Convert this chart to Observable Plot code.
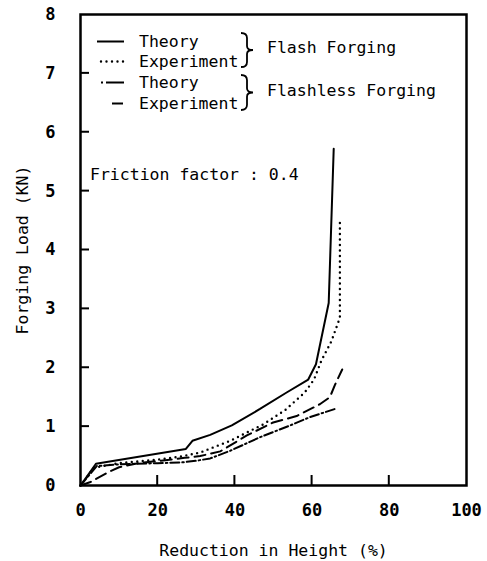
<!DOCTYPE html>
<html><head><meta charset="utf-8">
<script src="https://cdn.jsdelivr.net/npm/d3@7"></script>
<script src="https://cdn.jsdelivr.net/npm/@observablehq/plot@0.6"></script>
<style>
body{margin:0;background:#fff}
#chart svg{display:block;font-family:"DejaVu Sans Mono",monospace;}
g[aria-label="x-axis tick label"], g[aria-label="y-axis tick label"]{font-weight:bold;font-size:17px}
g[aria-label="x-axis label"], g[aria-label="y-axis label"]{font-weight:normal;font-size:16.5px}
</style></head><body><div id="chart"></div>
<script>
// ---- data ----
const xTicks = [0, 20, 40, 60, 80, 100];
const yTicks = [0, 1, 2, 3, 4, 5, 6, 7, 8];

const flashTheoryX = [0, 4.0, 27.3, 29.0, 33.6, 39.2, 46.5, 53.4, 59.0, 61.0, 64.3, 65.6];
const flashTheoryY = [0, 0.37, 0.62, 0.76, 0.86, 1.02, 1.30, 1.58, 1.80, 2.06, 3.10, 5.72];

const flashExpX = [0, 3.5, 10, 20, 25.8, 31.0, 38.8, 47.4, 53.0, 58.1, 60.5, 62.4, 65.0, 67.2, 67.2];
const flashExpY = [0, 0.30, 0.38, 0.44, 0.49, 0.56, 0.76, 1.04, 1.28, 1.58, 1.80, 2.12, 2.45, 2.85, 4.52];

const flashlessTheoryX = [0, 4.2, 10, 20, 25.8, 30.0, 33.6, 38.8, 46.5, 54.3, 59.4, 65.9];
const flashlessTheoryY = [0, 0.33, 0.36, 0.38, 0.39, 0.42, 0.46, 0.59, 0.82, 1.02, 1.16, 1.30];

const flashlessExpX = [0, 2.6, 7.3, 10, 15, 22, 27, 31, 36.2, 43.1, 49.9, 56.0, 62.0, 64.6, 66.0, 67.8];
const flashlessExpY = [0, 0.06, 0.23, 0.31, 0.38, 0.43, 0.47, 0.50, 0.58, 0.85, 1.07, 1.18, 1.38, 1.50, 1.72, 1.97];

const seriesNames = ["Theory", "Experiment", "Theory", "Experiment"];
const groupNames = ["Flash Forging", "Flashless Forging"];
const annotation = "Friction factor : 0.4";
const xLabel = "Reduction in Height (%)";
const yLabel = "Forging Load (KN)";

// ---- styles ----
const styles = [
  {strokeDasharray: null, strokeWidth: 2},
  {strokeDasharray: "0 5.5", strokeWidth: 2.4, strokeLinecap: "round"},
  {strokeDasharray: "9 3 1.5 3", strokeWidth: 2},
  {strokeDasharray: "11 6", strokeWidth: 2}
];

// inward ticks drawn through the plot's scales
function innerTicks(index, scales, values, dims) {
  const g = d3.create("svg:g").attr("stroke", "#000").attr("stroke-width", 2);
  const bottom = dims.height - dims.marginBottom, left = dims.marginLeft;
  xTicks.filter(d => d > 0 && d < 100).forEach(v => {
    const px = scales.x(v);
    g.append("line").attr("x1", px).attr("x2", px).attr("y1", bottom).attr("y2", bottom - 10);
  });
  yTicks.filter(d => d > 0 && d < 8).forEach(v => {
    const py = scales.y(v);
    g.append("line").attr("x1", left).attr("x2", left + 9).attr("y1", py).attr("y2", py);
  });
  return g.node();
}

function legendMark(index, scales, values, dims) {
  const ox = dims.marginLeft, oy = dims.marginTop;
  const g = d3.create("svg:g")
    .attr("font-family", "DejaVu Sans Mono, monospace")
    .attr("font-size", 16.5)
    .attr("text-anchor", "start")
    .attr("fill", "#000");
  const rows = [
    {x1: 17, x2: 44, base: 33},
    {x1: 21, x2: 44, base: 53},
    {x1: 21, x2: 44, base: 74},
    {x1: 32, x2: 44, base: 95}
  ];
  rows.forEach((r, i) => {
    const st = styles[i];
    const dash = i === 2 ? "2 3 25" : st.strokeDasharray;
    g.append("line")
      .attr("x1", ox + r.x1).attr("x2", ox + r.x2)
      .attr("y1", oy + r.base - 5.5).attr("y2", oy + r.base - 5.5)
      .attr("stroke", "#000").attr("stroke-width", st.strokeWidth)
      .attr("stroke-dasharray", dash)
      .attr("stroke-linecap", st.strokeLinecap || "butt");
    g.append("text").attr("x", ox + 59).attr("y", oy + r.base).text(seriesNames[i]);
  });
  const brace = (x, y1, y2, w) => {
    const h = y2 - y1, ym = (y1 + y2) / 2, xm = x + w / 2;
    return `M${x},${y1} Q${xm},${y1} ${xm},${y1 + h * 0.15} L${xm},${ym - h * 0.12} Q${xm},${ym} ${x + w},${ym} Q${xm},${ym} ${xm},${ym + h * 0.12} L${xm},${y2 - h * 0.15} Q${xm},${y2} ${x},${y2}`;
  };
  [[19, 53, 39], [61, 96, 82]].forEach(([a, b, base], i) => {
    g.append("path").attr("d", brace(ox + 161, oy + a, oy + b, 12))
      .attr("fill", "none").attr("stroke", "#000").attr("stroke-width", 1.8);
    g.append("text").attr("x", ox + 187).attr("y", oy + base).text(groupNames[i]);
  });
  g.append("text").attr("x", ox + 10).attr("y", oy + 166).text(annotation);
  return g.node();
}

const plot = Plot.plot({
  width: 487, height: 561,
  marginLeft: 80, marginRight: 21, marginTop: 14, marginBottom: 76,
  x: {domain: [0, 100]},
  y: {domain: [0, 8]},
  style: {fontFamily: "DejaVu Sans Mono, monospace", fontSize: "16.5px", color: "#000", background: "#fff"},
  marks: [
    Plot.axisX(xTicks, {tickSize: 0, tickPadding: 18, tickFormat: d3.format("d"), label: xLabel, labelAnchor: "center", labelArrow: "none", labelOffset: 70}),
    Plot.axisY(yTicks, {tickSize: 0, tickPadding: 25, tickFormat: d3.format("d"), label: yLabel, labelAnchor: "center", labelArrow: "none", labelOffset: 64}),
    innerTicks,
    Plot.line(flashTheoryY, {x: flashTheoryX, y: flashTheoryY, stroke: "#000", ...styles[0]}),
    Plot.line(flashExpY, {x: flashExpX, y: flashExpY, stroke: "#000", ...styles[1]}),
    Plot.line(flashlessTheoryY, {x: flashlessTheoryX, y: flashlessTheoryY, stroke: "#000", ...styles[2]}),
    Plot.line(flashlessExpY, {x: flashlessExpX, y: flashlessExpY, stroke: "#000", ...styles[3]}),
    Plot.frame({stroke: "#000", strokeWidth: 2.5}),
    legendMark
  ]
});
document.getElementById("chart").appendChild(plot);
</script></body></html>
